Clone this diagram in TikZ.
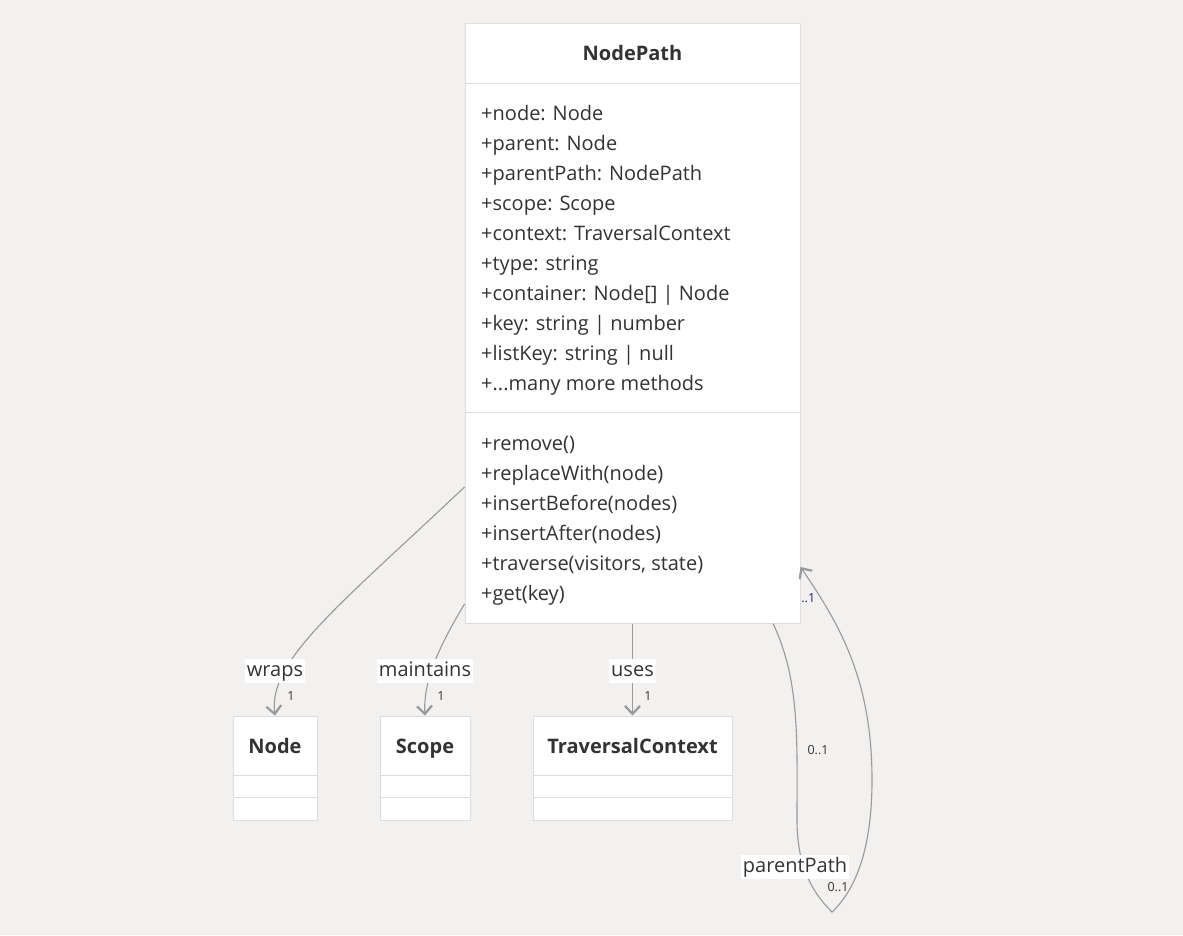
\documentclass[tikz,border=0pt]{standalone}
\usepackage{fontspec}
\setmainfont{Open Sans}
\usetikzlibrary{arrows.meta}
\definecolor{bgcol}{HTML}{F2F1EF}
\definecolor{boxline}{HTML}{DDDDDD}
\definecolor{txt}{HTML}{333333}
\definecolor{edgecol}{HTML}{999999}
\tikzset{
  classbox/.style={rectangle, draw=boxline, line width=1pt, fill=white, inner sep=0pt},
  member/.style={anchor=west, inner sep=0pt, text height=15pt, text depth=5pt, text=txt, font=\fontsize{20}{24}\selectfont},
  title/.style={inner sep=0pt, text height=15pt, text depth=5pt, text=txt, font=\fontsize{20}{24}\selectfont\bfseries},
  assoc/.style={draw=edgecol, line width=1.1pt, -{Straight Barb[length=8pt,width=15pt,line width=2.2pt]}},
  edgelabel/.style={fill=white, inner sep=2pt, text height=15pt, text depth=5pt, text=txt, font=\fontsize{20}{24}\selectfont},
  mult/.style={inner sep=0pt, text=txt, font=\fontsize{12.5}{14}\selectfont},
}
\begin{document}
\begin{tikzpicture}[x=1pt, y=-1pt]
    \useasboundingbox[fill=bgcol] (0,0) rectangle (1183,935);

    % partly hidden multiplicity of the self link
    \node[mult, anchor=west, text=blue!40!txt] (m4) at (794,598) {0..1};

    % main class
    \node[classbox, minimum width=335pt, minimum height=600pt] (nodepath) at (632.5,323) {};
    \draw[boxline, line width=1pt] ([yshift=-61pt]nodepath.north west) -- ([yshift=-61pt]nodepath.north east);
    \draw[boxline, line width=1pt] ([yshift=-390pt]nodepath.north west) -- ([yshift=-390pt]nodepath.north east);
    \node[title] (nptitle) at (632.5,55) {NodePath};
    \foreach \y/\txt in {115/node: Node, 145/parent: Node, 175/parentPath: NodePath,
        205/scope: Scope, 235/context: TraversalContext, 265/type: string,
        295/{container: Node[] | Node}, 325/{key: string | number},
        355/{listKey: string | null}, 385/{...many more methods},
        445/remove(), 475/replaceWith(node), 505/insertBefore(nodes),
        535/insertAfter(nodes), 565/{traverse(visitors, state)}, 595/get(key)}
        \node[member] at (481,\y) {+\txt};

    % referenced classes
    \foreach \name/\x/\w/\txt in {node/275/84/Node, scope/425/90/Scope, ctx/632.5/199/TraversalContext} {
        \node[classbox, minimum width=\w pt, minimum height=104pt] (\name) at (\x,768) {};
        \draw[boxline, line width=1pt] ([yshift=-60pt]\name.north west) -- ([yshift=-60pt]\name.north east);
        \draw[boxline, line width=1pt] ([yshift=-82pt]\name.north west) -- ([yshift=-82pt]\name.north east);
        \node[title] at (\x,748) {\txt};
    }

    % associations
    \draw[assoc] ([yshift=-164pt]nodepath.west) .. controls (340,605) and (268,660) .. (node.north);
    \draw[assoc] ([yshift=-281pt]nodepath.west) .. controls (440,645) and (423,680) .. (scope.north);
    \draw[assoc] (nodepath.south) -- (ctx.north);
    \draw[assoc] ([xshift=140.5pt]nodepath.south) .. controls (800,680) and (797,740) .. (797,820)
        .. controls (797,870) and (815,895) .. (832,912)
        .. controls (850,895) and (872,860) .. (872,780)
        .. controls (872,680) and (840,625) .. ([yshift=-244pt]nodepath.east);

    \node[edgelabel] (l1) at (275,671) {wraps};
    \node[edgelabel] (l2) at (425,671) {maintains};
    \node[edgelabel] (l3) at (632.5,671) {uses};
    \node[edgelabel] (l4) at (795,867) {parentPath};
    \node[mult] (m1) at (291,696) {1};
    \node[mult] (m2) at (441,696) {1};
    \node[mult] (m3) at (648,696) {1};
    \node[mult] (m5) at (818,750) {0..1};
    \node[mult] (m6) at (838,887) {0..1};
\end{tikzpicture}
\end{document}
